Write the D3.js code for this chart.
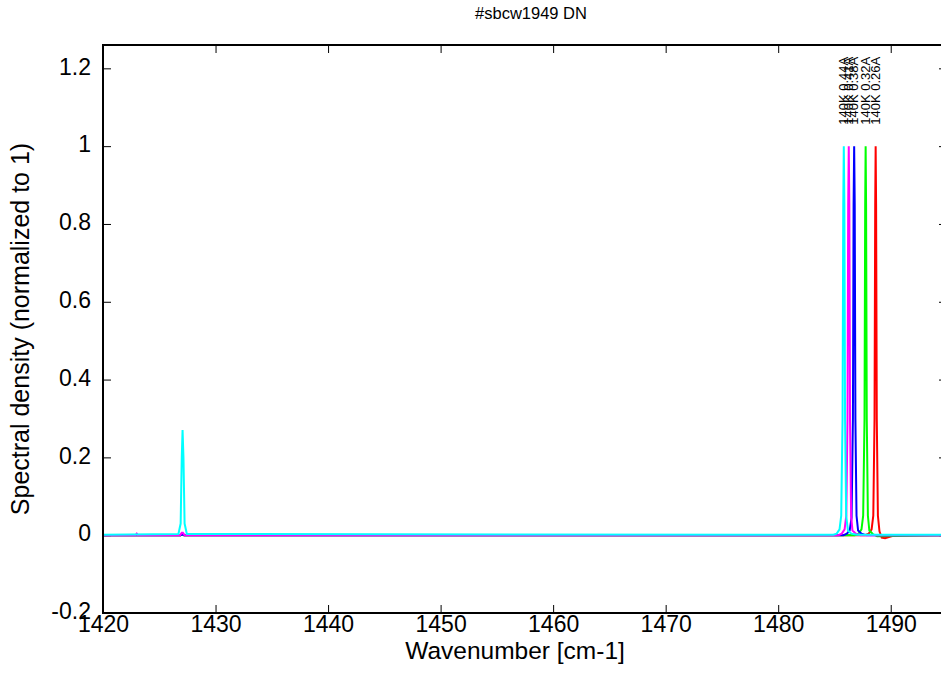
<!DOCTYPE html>
<html>
<head>
<meta charset="utf-8">
<script src="https://d3js.org/d3.v7.min.js"></script>
<style>
    body { margin: 0; background: white; }
    text { font-family: "Liberation Sans", Arial, sans-serif; fill: #000; }
</style>
</head>
<body>
<svg id="plot" width="941" height="677"></svg>
<script>
    // series, drawn in this order (last one on top)
    const seriesLabels = ["140K 0.26A", "140K 0.32A", "140K 0.38A", "140K 0.41A", "140K 0.44A"];
    const seriesColors = ["#ff0000", "#00ff00", "#0000ff", "#ff00ff", "#00ffff"];

    const wnRed = [1420, 1426.9, 1427.05, 1427.2, 1487.7, 1488.05, 1488.3, 1488.45, 1488.56, 1488.62, 1488.66, 1488.7, 1488.76, 1488.86, 1489.0, 1489.2, 1489.5, 1489.9, 1490.4, 1495];
    const dRed = [0, 0, 0.002, 0, 0, 0.004, 0.015, 0.05, 0.3, 0.85, 1, 0.85, 0.3, 0.05, 0.01, -0.006, -0.008, -0.004, 0, 0];

    const wnGreen = [1420, 1426.9, 1427.05, 1427.2, 1486.8, 1487.15, 1487.4, 1487.55, 1487.67, 1487.73, 1487.77, 1487.81, 1487.87, 1487.97, 1488.1, 1488.4, 1488.8, 1495];
    const dGreen = [0, 0, 0.002, 0, 0, 0.004, 0.015, 0.05, 0.3, 0.85, 1, 0.85, 0.3, 0.05, 0.012, 0.003, -0.003, 0];

    const wnBlue = [1420, 1426.9, 1427.05, 1427.2, 1485.8, 1486.1, 1486.35, 1486.52, 1486.64, 1486.7, 1486.75, 1486.8, 1486.86, 1486.96, 1487.1, 1487.4, 1487.8, 1495];
    const dBlue = [0, 0, 0.002, 0, 0, 0.004, 0.012, 0.045, 0.3, 0.85, 1, 0.85, 0.3, 0.05, 0.012, 0.004, 0, 0];

    const wnMagenta = [1420, 1422.9, 1423.0, 1423.1, 1426.85, 1427.0, 1427.1, 1427.25, 1485.35, 1485.65, 1485.9, 1486.05, 1486.16, 1486.22, 1486.27, 1486.32, 1486.38, 1486.48, 1486.6, 1486.9, 1487.3, 1495];
    const dMagenta = [0, 0, 0.004, 0, 0, 0.006, 0.006, 0, 0, 0.004, 0.015, 0.05, 0.3, 0.85, 1, 0.85, 0.3, 0.05, 0.012, 0.004, 0, 0];

    const wnCyan = [1420, 1426.7, 1426.9, 1427.0, 1427.07, 1427.15, 1427.25, 1427.45, 1484.9, 1485.2, 1485.45, 1485.6, 1485.72, 1485.78, 1485.83, 1485.88, 1485.94, 1486.04, 1486.2, 1486.5, 1487.0, 1495];
    const dCyan = [0.001, 0.003, 0.03, 0.2, 0.27, 0.2, 0.03, 0.003, 0.001, 0.004, 0.015, 0.05, 0.3, 0.85, 1, 0.85, 0.3, 0.05, 0.012, 0.004, 0.001, 0.001];

    const seriesX = [wnRed, wnGreen, wnBlue, wnMagenta, wnCyan];
    const seriesY = [dRed, dGreen, dBlue, dMagenta, dCyan];
    // label x = peak position of each series, label y in data units
    const labelX = [1488.66, 1487.77, 1486.75, 1486.27, 1485.83];
    const labelY = 1.055;

    const xTicks = [1420, 1430, 1440, 1450, 1460, 1470, 1480, 1490];
    const yTicks = [-0.2, 0, 0.2, 0.4, 0.6, 0.8, 1, 1.2];
    const yTickLabels = ["-0.2", "0", "0.2", "0.4", "0.6", "0.8", "1", "1.2"];

    const svg = d3.select("#plot");
    const margin = { top: 45, right: -6, bottom: 64, left: 103 };
    const width = +svg.attr("width");
    const height = +svg.attr("height");
    const right = width - margin.right;
    const bottom = height - margin.bottom;

    const x = d3.scaleLinear().domain([1420, 1495]).range([margin.left, right]);
    const y = d3.scaleLinear().domain([-0.2, 1.26]).range([bottom, margin.top]);

    svg.append("defs").append("clipPath").attr("id", "clip")
        .append("rect")
        .attr("x", margin.left).attr("y", margin.top)
        .attr("width", right - margin.left).attr("height", bottom - margin.top);

    // title
    svg.append("text")
        .attr("x", 531).attr("y", 19)
        .attr("text-anchor", "middle")
        .attr("font-size", "16.5px")
        .text("#sbcw1949 DN");

    // axes: inward ticks on all four sides
    const tickLen = 8;
    const axes = svg.append("g").attr("class", "axes");

    axes.append("g")
        .attr("transform", `translate(0,${bottom})`)
        .call(d3.axisBottom(x).tickValues(xTicks).tickSize(-tickLen).tickPadding(3).tickFormat(d3.format("d")))
        .call(g => g.select(".domain").remove())
        .call(g => g.selectAll("line").attr("stroke", "#000"))
        .call(g => g.selectAll("text").attr("font-size", "23px").attr("font-family", "Liberation Sans, Arial, sans-serif").attr("fill", "#000"));

    axes.append("g")
        .attr("transform", `translate(0,${margin.top})`)
        .call(d3.axisTop(x).tickValues(xTicks).tickSize(-tickLen).tickFormat(""))
        .call(g => g.select(".domain").remove())
        .call(g => g.selectAll("line").attr("stroke", "#000"));

    axes.append("g")
        .attr("transform", `translate(${margin.left},0)`)
        .call(d3.axisLeft(y).tickValues(yTicks).tickSize(-tickLen).tickPadding(12).tickFormat((d, i) => yTickLabels[i]))
        .call(g => g.select(".domain").remove())
        .call(g => g.selectAll("line").attr("stroke", "#000"))
        .call(g => g.selectAll("text").attr("font-size", "23px").attr("font-family", "Liberation Sans, Arial, sans-serif").attr("fill", "#000").attr("dy", "0.25em"));

    axes.append("g")
        .attr("transform", `translate(${right},0)`)
        .call(d3.axisRight(y).tickValues(yTicks).tickSize(-tickLen).tickFormat(""))
        .call(g => g.select(".domain").remove())
        .call(g => g.selectAll("line").attr("stroke", "#000"));

    // spectra
    const line = d3.line().x(d => x(d[0])).y(d => y(d[1]));
    const curves = svg.append("g").attr("clip-path", "url(#clip)");
    seriesX.forEach((xs, i) => {
        const pts = xs.map((v, j) => [v, seriesY[i][j]]);
        curves.append("path")
            .datum(pts)
            .attr("fill", "none")
            .attr("stroke", seriesColors[i])
            .attr("stroke-width", 2)
            .attr("d", line);
    });

    // peak labels, rotated
    seriesLabels.forEach((lab, i) => {
        svg.append("text")
            .attr("transform", `translate(${x(labelX[i]) + 4},${y(labelY)}) rotate(-90)`)
            .attr("font-size", "13px")
            .text(lab);
    });

    // frame
    svg.append("rect")
        .attr("x", margin.left).attr("y", margin.top)
        .attr("width", right - margin.left).attr("height", bottom - margin.top)
        .attr("fill", "none")
        .attr("stroke", "#000")
        .attr("stroke-width", 2);

    // axis labels
    svg.append("text")
        .attr("x", 515).attr("y", 659)
        .attr("text-anchor", "middle")
        .attr("font-size", "24.5px")
        .text("Wavenumber [cm-1]");

    svg.append("text")
        .attr("transform", `translate(29,${(margin.top + bottom) / 2}) rotate(-90)`)
        .attr("text-anchor", "middle")
        .attr("font-size", "25px")
        .text("Spectral density (normalized to 1)");
</script>
</body>
</html>
